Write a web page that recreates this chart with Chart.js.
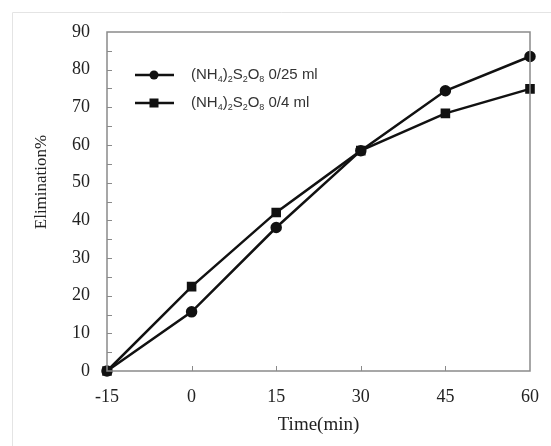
<!DOCTYPE html>
<html lang="en">
<head>
  <meta charset="UTF-8">
  <title>Elimination vs time</title>
  <script src="https://cdn.jsdelivr.net/npm/chart.js"></script>
  <style>
    body { margin: 0; background: #fff; }
    canvas { display: block; }
  </style>
</head>
<body>
  <canvas id="elimChart" width="551" height="446"></canvas>

  <script>
    // data
    const times = [-15, 0, 15, 30, 45, 60];
    const elim25 = [0, 15.7, 38.1, 58.5, 74.4, 83.5];
    const elim4 = [0, 22.4, 42.1, 58.5, 68.4, 74.9];
    const xTicks = [-15, 0, 15, 30, 45, 60];
    const yMax = 90;

    const serif = '"Liberation Serif", "DejaVu Serif", serif';
    const sans = '"Liberation Sans", Arial, sans-serif';

    const toPoints = vals => times.map((t, i) => ({ x: t, y: vals[i] }));

    // frame, inward ticks, legend and axis titles
    const decorPlugin = {
      id: 'decor',
      beforeDraw(chart) {
        const c = chart.ctx;
        c.save();
        c.strokeStyle = '#e4e4e4';
        c.lineWidth = 1;
        c.beginPath();
        c.moveTo(12.5, 446);
        c.lineTo(12.5, 12.5);
        c.lineTo(551, 12.5);
        c.stroke();
        c.restore();
      },
      afterDatasetsDraw(chart) {
        const c = chart.ctx;
        const a = chart.chartArea;
        const xs = chart.scales.x, ys = chart.scales.y;
        c.save();
        c.strokeStyle = '#8a8a8a';
        c.lineWidth = 1.5;
        c.strokeRect(a.left, a.top, a.right - a.left, a.bottom - a.top);
        c.lineWidth = 1;
        c.beginPath();
        for (let v = 5; v < yMax; v += 5) {
          const py = Math.round(ys.getPixelForValue(v)) + 0.5;
          c.moveTo(a.left, py);
          c.lineTo(a.left + 5, py);
        }
        xTicks.slice(1, -1).forEach(v => {
          const px = Math.round(xs.getPixelForValue(v)) + 0.5;
          c.moveTo(px, a.bottom);
          c.lineTo(px, a.bottom - 5);
        });
        c.stroke();

        // axis titles
        c.fillStyle = '#222';
        c.textAlign = 'center';
        c.textBaseline = 'middle';
        c.font = '19px ' + serif;
        c.fillText('Time(min)', (a.left + a.right) / 2, 425);
        c.save();
        c.translate(42, 182);
        c.rotate(-Math.PI / 2);
        c.font = '17px ' + serif;
        c.fillText('Elimination%', 0, 0);
        c.restore();

        // legend
        const rows = [
          { y: 75, tail: ' 0/25 ml', style: 'circle' },
          { y: 103, tail: ' 0/4 ml', style: 'rect' }
        ];
        rows.forEach(r => {
          c.strokeStyle = '#111';
          c.fillStyle = '#111';
          c.lineWidth = 2.5;
          c.beginPath();
          c.moveTo(135, r.y);
          c.lineTo(174, r.y);
          c.stroke();
          if (r.style === 'circle') {
            c.beginPath();
            c.arc(154, r.y, 4.5, 0, Math.PI * 2);
            c.fill();
          } else {
            c.fillRect(149.5, r.y - 4.5, 9, 9);
          }
          drawFormula(c, 191, r.y, r.tail);
        });
        c.restore();
      }
    };

    function drawFormula(c, x, y, tail) {
      const parts = [['(NH', 0], ['4', 1], [')', 0], ['2', 1], ['S', 0], ['2', 1], ['O', 0], ['8', 1], [tail, 0]];
      c.fillStyle = '#333';
      c.textAlign = 'left';
      c.textBaseline = 'middle';
      parts.forEach(([s, sub]) => {
        c.font = (sub ? '9px ' : '15px ') + sans;
        c.fillText(s, x, sub ? y + 5 : y);
        x += c.measureText(s).width;
      });
    }

    new Chart(document.getElementById('elimChart'), {
      type: 'line',
      data: {
        datasets: [
          {
            label: '(NH4)2S2O8 0/25 ml',
            data: toPoints(elim25),
            borderColor: '#111',
            backgroundColor: '#111',
            borderWidth: 2.5,
            pointStyle: 'circle',
            pointRadius: 4.5,
            tension: 0
          },
          {
            label: '(NH4)2S2O8 0/4 ml',
            data: toPoints(elim4),
            borderColor: '#111',
            backgroundColor: '#111',
            borderWidth: 2.5,
            pointStyle: 'rect',
            pointRadius: 5,
            tension: 0
          }
        ]
      },
      options: {
        responsive: false,
        animation: false,
        clip: false,
        layout: { padding: { left: 20, right: 21, top: 32, bottom: 0 } },
        plugins: { legend: { display: false }, tooltip: { enabled: false } },
        scales: {
          x: {
            type: 'linear',
            min: -15,
            max: 60,
            afterBuildTicks: s => { s.ticks = xTicks.map(v => ({ value: v })); },
            afterFit: s => { s.height = 75; },
            grid: { display: false },
            border: { display: false },
            ticks: { color: '#222', font: { family: serif, size: 18 }, padding: 7, maxRotation: 0 }
          },
          y: {
            min: 0,
            max: yMax,
            afterFit: s => { s.width = 87; },
            grid: { display: false },
            border: { display: false },
            ticks: {
              stepSize: 5,
              color: '#222',
              font: { family: serif, size: 18 },
              padding: 9,
              callback: v => (v % 10 === 0 ? v : '')
            }
          }
        }
      },
      plugins: [decorPlugin]
    });
  </script>
</body>
</html>
